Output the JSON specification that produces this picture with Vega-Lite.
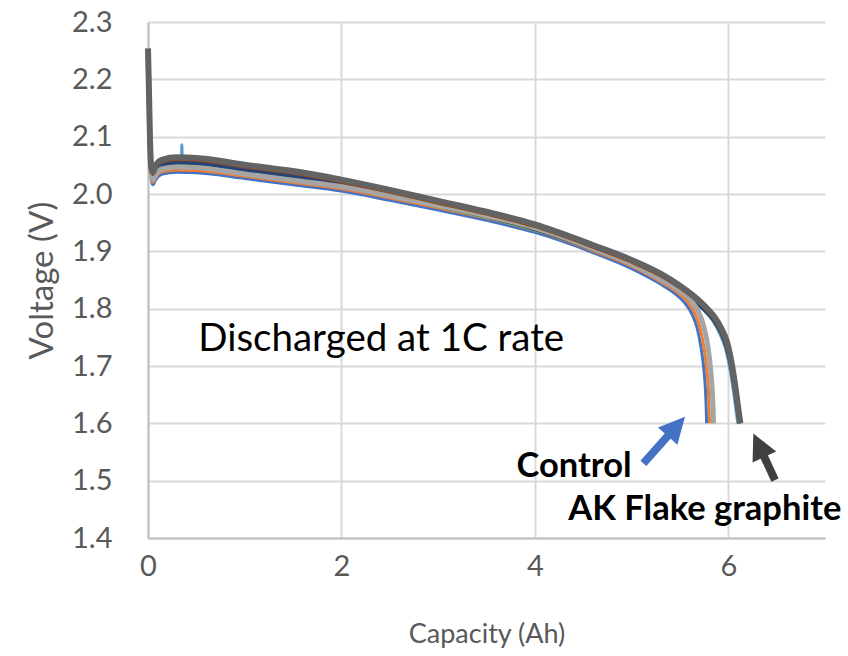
{
"$schema":"https://vega.github.io/schema/vega-lite/v6.json",
"width":677,"height":516,
"autosize":{"type":"none"},
"padding":{"left":148,"top":22,"right":23,"bottom":118},
"background":"white",
"config":{"font":"Lato","view":{"stroke":null},
"axis":{"grid":true,"gridColor":"#d9d9d9","gridWidth":2,"domainColor":"#bfbfbf","domainWidth":2,"ticks":false,"labelColor":"#595959","titleColor":"#595959","titleFontWeight":"normal","labelFont":"Lato","titleFont":"Lato","labelFlush":false}},
"datasets":{"curves":[
{"s":"Control 1","x":0,"v":2.235},{"s":"Control 1","x":0.01,"v":2.16},{"s":"Control 1","x":0.02,"v":2.08},{"s":"Control 1","x":0.035,"v":2.025},{"s":"Control 1","x":0.05,"v":2.016},{"s":"Control 1","x":0.08,"v":2.025},{"s":"Control 1","x":0.15,"v":2.035},{"s":"Control 1","x":0.3,"v":2.038},{"s":"Control 1","x":0.5,"v":2.037},{"s":"Control 1","x":1,"v":2.027},{"s":"Control 1","x":1.5,"v":2.016},{"s":"Control 1","x":2,"v":2.005},{"s":"Control 1","x":2.5,"v":1.989},{"s":"Control 1","x":3,"v":1.972},{"s":"Control 1","x":3.5,"v":1.954},{"s":"Control 1","x":4,"v":1.933},{"s":"Control 1","x":4.6,"v":1.898},{"s":"Control 1","x":5,"v":1.87},{"s":"Control 1","x":5.3,"v":1.843},{"s":"Control 1","x":5.45,"v":1.826},{"s":"Control 1","x":5.55,"v":1.81},{"s":"Control 1","x":5.62,"v":1.792},{"s":"Control 1","x":5.68,"v":1.765},{"s":"Control 1","x":5.72,"v":1.73},{"s":"Control 1","x":5.75,"v":1.69},{"s":"Control 1","x":5.765,"v":1.655},{"s":"Control 1","x":5.772,"v":1.625},{"s":"Control 1","x":5.776,"v":1.6},
{"s":"Control 2","x":0,"v":2.24},{"s":"Control 2","x":0.01,"v":2.165},{"s":"Control 2","x":0.02,"v":2.085},{"s":"Control 2","x":0.035,"v":2.03},{"s":"Control 2","x":0.05,"v":2.02},{"s":"Control 2","x":0.08,"v":2.029},{"s":"Control 2","x":0.15,"v":2.039},{"s":"Control 2","x":0.3,"v":2.042},{"s":"Control 2","x":0.5,"v":2.041},{"s":"Control 2","x":1,"v":2.031},{"s":"Control 2","x":1.5,"v":2.02},{"s":"Control 2","x":2,"v":2.009},{"s":"Control 2","x":2.5,"v":1.993},{"s":"Control 2","x":3,"v":1.976},{"s":"Control 2","x":3.5,"v":1.958},{"s":"Control 2","x":4,"v":1.937},{"s":"Control 2","x":4.6,"v":1.901},{"s":"Control 2","x":5,"v":1.874},{"s":"Control 2","x":5.3,"v":1.847},{"s":"Control 2","x":5.47,"v":1.829},{"s":"Control 2","x":5.58,"v":1.812},{"s":"Control 2","x":5.65,"v":1.793},{"s":"Control 2","x":5.71,"v":1.765},{"s":"Control 2","x":5.75,"v":1.73},{"s":"Control 2","x":5.78,"v":1.69},{"s":"Control 2","x":5.795,"v":1.655},{"s":"Control 2","x":5.802,"v":1.625},{"s":"Control 2","x":5.806,"v":1.6},
{"s":"Control 3","x":0,"v":2.245},{"s":"Control 3","x":0.01,"v":2.17},{"s":"Control 3","x":0.02,"v":2.09},{"s":"Control 3","x":0.035,"v":2.035},{"s":"Control 3","x":0.05,"v":2.025},{"s":"Control 3","x":0.08,"v":2.034},{"s":"Control 3","x":0.15,"v":2.044},{"s":"Control 3","x":0.3,"v":2.047},{"s":"Control 3","x":0.5,"v":2.046},{"s":"Control 3","x":1,"v":2.035},{"s":"Control 3","x":1.5,"v":2.024},{"s":"Control 3","x":2,"v":2.013},{"s":"Control 3","x":2.5,"v":1.997},{"s":"Control 3","x":3,"v":1.98},{"s":"Control 3","x":3.5,"v":1.962},{"s":"Control 3","x":4,"v":1.941},{"s":"Control 3","x":4.6,"v":1.905},{"s":"Control 3","x":5,"v":1.878},{"s":"Control 3","x":5.3,"v":1.851},{"s":"Control 3","x":5.5,"v":1.831},{"s":"Control 3","x":5.61,"v":1.815},{"s":"Control 3","x":5.69,"v":1.795},{"s":"Control 3","x":5.75,"v":1.767},{"s":"Control 3","x":5.79,"v":1.733},{"s":"Control 3","x":5.82,"v":1.69},{"s":"Control 3","x":5.835,"v":1.655},{"s":"Control 3","x":5.843,"v":1.625},{"s":"Control 3","x":5.847,"v":1.6},
{"s":"AK 1","x":0,"v":2.25},{"s":"AK 1","x":0.01,"v":2.175},{"s":"AK 1","x":0.02,"v":2.095},{"s":"AK 1","x":0.035,"v":2.04},{"s":"AK 1","x":0.05,"v":2.031},{"s":"AK 1","x":0.08,"v":2.042},{"s":"AK 1","x":0.15,"v":2.052},{"s":"AK 1","x":0.3,"v":2.056},{"s":"AK 1","x":0.345,"v":2.056},{"s":"AK 1","x":0.35,"v":2.086},{"s":"AK 1","x":0.355,"v":2.056},{"s":"AK 1","x":0.5,"v":2.055},{"s":"AK 1","x":1,"v":2.043},{"s":"AK 1","x":1.5,"v":2.032},{"s":"AK 1","x":2,"v":2.017},{"s":"AK 1","x":2.5,"v":2.0},{"s":"AK 1","x":3,"v":1.981},{"s":"AK 1","x":3.5,"v":1.962},{"s":"AK 1","x":4,"v":1.94},{"s":"AK 1","x":4.6,"v":1.905},{"s":"AK 1","x":5,"v":1.879},{"s":"AK 1","x":5.3,"v":1.855},{"s":"AK 1","x":5.5,"v":1.834},{"s":"AK 1","x":5.65,"v":1.815},{"s":"AK 1","x":5.75,"v":1.797},{"s":"AK 1","x":5.84,"v":1.779},{"s":"AK 1","x":5.91,"v":1.757},{"s":"AK 1","x":5.97,"v":1.731},{"s":"AK 1","x":6.02,"v":1.692},{"s":"AK 1","x":6.055,"v":1.654},{"s":"AK 1","x":6.08,"v":1.623},{"s":"AK 1","x":6.098,"v":1.6},
{"s":"AK 2","x":0,"v":2.25},{"s":"AK 2","x":0.01,"v":2.175},{"s":"AK 2","x":0.02,"v":2.095},{"s":"AK 2","x":0.035,"v":2.037},{"s":"AK 2","x":0.05,"v":2.028},{"s":"AK 2","x":0.08,"v":2.039},{"s":"AK 2","x":0.15,"v":2.049},{"s":"AK 2","x":0.3,"v":2.053},{"s":"AK 2","x":0.5,"v":2.052},{"s":"AK 2","x":1,"v":2.04},{"s":"AK 2","x":1.5,"v":2.029},{"s":"AK 2","x":2,"v":2.014},{"s":"AK 2","x":2.5,"v":1.997},{"s":"AK 2","x":3,"v":1.978},{"s":"AK 2","x":3.5,"v":1.959},{"s":"AK 2","x":4,"v":1.937},{"s":"AK 2","x":4.6,"v":1.903},{"s":"AK 2","x":5,"v":1.877},{"s":"AK 2","x":5.3,"v":1.853},{"s":"AK 2","x":5.5,"v":1.832},{"s":"AK 2","x":5.65,"v":1.813},{"s":"AK 2","x":5.76,"v":1.796},{"s":"AK 2","x":5.85,"v":1.778},{"s":"AK 2","x":5.92,"v":1.757},{"s":"AK 2","x":5.98,"v":1.731},{"s":"AK 2","x":6.03,"v":1.692},{"s":"AK 2","x":6.065,"v":1.654},{"s":"AK 2","x":6.09,"v":1.623},{"s":"AK 2","x":6.108,"v":1.6},
{"s":"AK 3","x":0,"v":2.25},{"s":"AK 3","x":0.01,"v":2.175},{"s":"AK 3","x":0.02,"v":2.095},{"s":"AK 3","x":0.035,"v":2.038},{"s":"AK 3","x":0.05,"v":2.03},{"s":"AK 3","x":0.08,"v":2.041},{"s":"AK 3","x":0.15,"v":2.051},{"s":"AK 3","x":0.3,"v":2.055},{"s":"AK 3","x":0.5,"v":2.054},{"s":"AK 3","x":1,"v":2.042},{"s":"AK 3","x":1.5,"v":2.031},{"s":"AK 3","x":2,"v":2.016},{"s":"AK 3","x":2.5,"v":1.999},{"s":"AK 3","x":3,"v":1.98},{"s":"AK 3","x":3.5,"v":1.961},{"s":"AK 3","x":4,"v":1.939},{"s":"AK 3","x":4.6,"v":1.904},{"s":"AK 3","x":5,"v":1.878},{"s":"AK 3","x":5.3,"v":1.854},{"s":"AK 3","x":5.5,"v":1.833},{"s":"AK 3","x":5.65,"v":1.814},{"s":"AK 3","x":5.76,"v":1.797},{"s":"AK 3","x":5.85,"v":1.78},{"s":"AK 3","x":5.93,"v":1.757},{"s":"AK 3","x":5.985,"v":1.732},{"s":"AK 3","x":6.035,"v":1.693},{"s":"AK 3","x":6.07,"v":1.655},{"s":"AK 3","x":6.095,"v":1.624},{"s":"AK 3","x":6.115,"v":1.6},
{"s":"AK 4","x":0,"v":2.252},{"s":"AK 4","x":0.01,"v":2.178},{"s":"AK 4","x":0.02,"v":2.098},{"s":"AK 4","x":0.035,"v":2.042},{"s":"AK 4","x":0.05,"v":2.034},{"s":"AK 4","x":0.08,"v":2.046},{"s":"AK 4","x":0.15,"v":2.056},{"s":"AK 4","x":0.3,"v":2.06},{"s":"AK 4","x":0.5,"v":2.059},{"s":"AK 4","x":1,"v":2.047},{"s":"AK 4","x":1.5,"v":2.036},{"s":"AK 4","x":2,"v":2.021},{"s":"AK 4","x":2.5,"v":2.003},{"s":"AK 4","x":3,"v":1.984},{"s":"AK 4","x":3.5,"v":1.965},{"s":"AK 4","x":4,"v":1.943},{"s":"AK 4","x":4.6,"v":1.907},{"s":"AK 4","x":5,"v":1.881},{"s":"AK 4","x":5.3,"v":1.857},{"s":"AK 4","x":5.5,"v":1.836},{"s":"AK 4","x":5.65,"v":1.817},{"s":"AK 4","x":5.76,"v":1.8},{"s":"AK 4","x":5.85,"v":1.783},{"s":"AK 4","x":5.93,"v":1.761},{"s":"AK 4","x":5.99,"v":1.736},{"s":"AK 4","x":6.04,"v":1.696},{"s":"AK 4","x":6.075,"v":1.658},{"s":"AK 4","x":6.1,"v":1.626},{"s":"AK 4","x":6.125,"v":1.6},
{"s":"AK 5","x":0,"v":2.254},{"s":"AK 5","x":0.01,"v":2.18},{"s":"AK 5","x":0.02,"v":2.1},{"s":"AK 5","x":0.035,"v":2.045},{"s":"AK 5","x":0.05,"v":2.038},{"s":"AK 5","x":0.08,"v":2.05},{"s":"AK 5","x":0.15,"v":2.06},{"s":"AK 5","x":0.3,"v":2.064},{"s":"AK 5","x":0.5,"v":2.063},{"s":"AK 5","x":1,"v":2.051},{"s":"AK 5","x":1.5,"v":2.04},{"s":"AK 5","x":2,"v":2.025},{"s":"AK 5","x":2.5,"v":2.007},{"s":"AK 5","x":3,"v":1.988},{"s":"AK 5","x":3.5,"v":1.969},{"s":"AK 5","x":4,"v":1.947},{"s":"AK 5","x":4.6,"v":1.911},{"s":"AK 5","x":5,"v":1.885},{"s":"AK 5","x":5.3,"v":1.861},{"s":"AK 5","x":5.5,"v":1.84},{"s":"AK 5","x":5.65,"v":1.821},{"s":"AK 5","x":5.76,"v":1.804},{"s":"AK 5","x":5.85,"v":1.787},{"s":"AK 5","x":5.93,"v":1.765},{"s":"AK 5","x":5.99,"v":1.74},{"s":"AK 5","x":6.04,"v":1.7},{"s":"AK 5","x":6.075,"v":1.662},{"s":"AK 5","x":6.1,"v":1.63},{"s":"AK 5","x":6.125,"v":1.6}
]},
"layer":[
{"data":{"name":"curves"},"transform":[{"filter":{"field":"s","oneOf":["Control 1","Control 2","AK 1","AK 2"]}}],
 "mark":{"type":"line","strokeWidth":3,"interpolate":"monotone"},
 "encoding":{
 "x":{"field":"x","type":"quantitative","scale":{"domain":[0,7],"nice":false,"zero":false},"axis":{"values":[0,2,4,6],"format":"d","title":"Capacity (Ah)","labelFontSize":29,"labelPadding":14,"titleFontSize":27,"titlePadding":40}},
 "y":{"field":"v","type":"quantitative","scale":{"domain":[1.4,2.3],"nice":false,"zero":false},"axis":{"values":[1.4,1.5,1.6,1.7,1.8,1.9,2.0,2.1,2.2,2.3],"format":".1f","title":"Voltage (V)","labelFontSize":29,"labelPadding":36,"titleFontSize":33,"titlePadding":12}},
 "color":{"field":"s","type":"nominal","legend":null,"scale":{"domain":["Control 1","Control 2","Control 3","AK 1","AK 2","AK 3","AK 4","AK 5"],"range":["#4472C4","#ED7D31","#A5A5A5","#5B9BD5","#70AD47","#264478","#9E480E","#636363"]}}}},
{"data":{"name":"curves"},"transform":[{"filter":{"field":"s","equal":"AK 3"}}],
 "mark":{"type":"line","strokeWidth":4,"interpolate":"monotone","color":"#264478"},
 "encoding":{"x":{"field":"x","type":"quantitative"},"y":{"field":"v","type":"quantitative"}}},
{"data":{"name":"curves"},"transform":[{"filter":{"field":"s","equal":"Control 3"}}],
 "mark":{"type":"line","strokeWidth":5,"interpolate":"monotone","color":"#A5A5A5"},
 "encoding":{"x":{"field":"x","type":"quantitative"},"y":{"field":"v","type":"quantitative"}}},
{"data":{"name":"curves"},"transform":[{"filter":{"field":"s","equal":"AK 4"}}],
 "mark":{"type":"line","strokeWidth":3,"interpolate":"monotone","color":"#9E480E"},
 "encoding":{"x":{"field":"x","type":"quantitative"},"y":{"field":"v","type":"quantitative"}}},
{"data":{"name":"curves"},"transform":[{"filter":{"field":"s","equal":"AK 5"}}],
 "mark":{"type":"line","strokeWidth":6,"interpolate":"monotone","color":"#636363"},
 "encoding":{"x":{"field":"x","type":"quantitative"},"y":{"field":"v","type":"quantitative"}}},
{"data":{"values":[{"label":"Discharged at 1C rate"}]},"mark":{"type":"text","align":"left","baseline":"alphabetic","font":"Lato","fontSize":38.5,"color":"#000000"},
 "encoding":{"x":{"datum":0.52,"type":"quantitative"},"y":{"datum":1.7256,"type":"quantitative"},"text":{"field":"label"}}},
{"data":{"values":[{"label":"Control"}]},"mark":{"type":"text","align":"left","baseline":"alphabetic","font":"Lato","fontSize":34.5,"fontWeight":"bold","color":"#000000"},
 "encoding":{"x":{"datum":3.81,"type":"quantitative"},"y":{"datum":1.5067,"type":"quantitative"},"text":{"field":"label"}}},
{"data":{"values":[{"label":"AK Flake graphite"}]},"mark":{"type":"text","align":"left","baseline":"alphabetic","font":"Lato","fontSize":34.5,"fontWeight":"bold","color":"#000000"},
 "encoding":{"x":{"datum":4.346,"type":"quantitative"},"y":{"datum":1.4308,"type":"quantitative"},"text":{"field":"label"}}},
{"data":{"values":[{"arrow":"Control"}]},"mark":{"type":"rule","strokeWidth":8,"color":"#4472C4"},
 "encoding":{"x":{"datum":5.122,"type":"quantitative"},"y":{"datum":1.53,"type":"quantitative"},"x2":{"datum":5.463},"y2":{"datum":1.5947}}},
{"data":{"values":[{"arrow":"Control"}]},"mark":{"type":"point","shape":"M0,-1L1,1L-1,1Z","filled":true,"size":676,"angle":41.8,"color":"#4472C4","opacity":1},
 "encoding":{"x":{"datum":5.463,"type":"quantitative"},"y":{"datum":1.5947,"type":"quantitative"}}},
{"data":{"values":[{"arrow":"AK"}]},"mark":{"type":"rule","strokeWidth":8,"color":"#404040"},
 "encoding":{"x":{"datum":6.483,"type":"quantitative"},"y":{"datum":1.5009,"type":"quantitative"},"x2":{"datum":6.316},"y2":{"datum":1.5618}}},
{"data":{"values":[{"arrow":"AK"}]},"mark":{"type":"point","shape":"M0,-1L1,1L-1,1Z","filled":true,"size":676,"angle":335,"color":"#404040","opacity":1},
 "encoding":{"x":{"datum":6.316,"type":"quantitative"},"y":{"datum":1.5618,"type":"quantitative"}}}
]
}
